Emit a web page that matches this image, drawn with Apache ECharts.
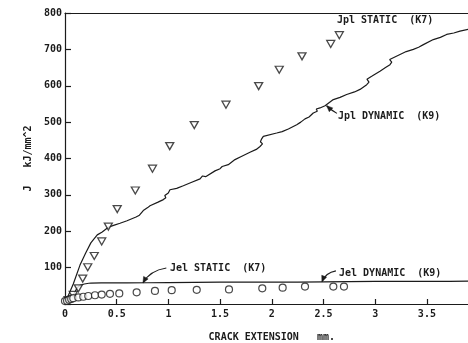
<!DOCTYPE html>
<html>
<head>
<meta charset="utf-8">
<script src="https://cdn.jsdelivr.net/npm/echarts@6/dist/echarts.min.js"></script>
<style>
  html, body { margin: 0; padding: 0; background: #fff; }
  #c { width: 468px; height: 343px; }
</style>
</head>
<body>
<div id="c"></div>
<script>
// Crack extension (mm) vs J (kJ/mm^2)

// Tick labels
const xTickLabels = ['0', '0.5', '1', '1.5', '2', '2.5', '3', '3.5'];
const yTickLabels = ['', '100', '200', '300', '400', '500', '600', '700', '800'];

// Jpl STATIC (K7) – open down-triangles
const jplStatic = [
  [0.03, 11], [0.08, 25], [0.129, 43], [0.171, 70], [0.22, 101], [0.283, 132],
  [0.355, 172], [0.419, 213], [0.505, 261], [0.68, 312], [0.846, 372],
  [1.013, 434], [1.25, 492], [1.557, 548], [1.873, 599], [2.072, 644],
  [2.292, 681], [2.57, 715], [2.653, 739]
];

// Jel STATIC (K7) – open circles
const jelStatic = [
  [0.0, 8], [0.02, 9], [0.04, 12], [0.06, 14], [0.08, 16], [0.129, 18],
  [0.177, 20], [0.225, 22], [0.29, 24], [0.355, 26], [0.435, 28], [0.525, 29],
  [0.693, 32], [0.87, 36], [1.032, 38], [1.274, 39], [1.586, 40], [1.908, 43],
  [2.105, 45], [2.321, 48], [2.595, 48], [2.698, 48]
];

// Jpl DYNAMIC (K9) – stepped resistance curve
const jplDynamic = [
  [0, 3], [0.03, 22], [0.08, 55], [0.145, 107], [0.2, 140], [0.25, 168],
  [0.312, 190], [0.36, 198], [0.419, 211], [0.47, 216], [0.532, 222], [0.6, 229],
  [0.687, 239], [0.72, 244], [0.757, 257], [0.8, 265], [0.822, 270], [0.9, 280],
  [0.951, 287], [0.975, 292], [0.965, 298], [0.999, 305], [1.015, 314],
  [1.08, 318], [1.144, 325], [1.22, 334], [1.306, 344], [1.33, 352], [1.36, 350],
  [1.451, 366], [1.5, 372], [1.52, 378], [1.579, 383], [1.644, 397], [1.7, 405],
  [1.789, 417], [1.85, 425], [1.886, 433], [1.91, 440], [1.89, 446], [1.902, 454],
  [1.918, 461], [2.047, 470], [2.1, 474], [2.16, 481], [2.241, 493], [2.28, 500],
  [2.321, 509], [2.36, 514], [2.401, 525], [2.44, 530], [2.43, 536], [2.466, 539],
  [2.515, 545], [2.595, 562], [2.66, 568], [2.724, 576], [2.8, 583], [2.853, 590],
  [2.918, 603], [2.94, 610], [2.92, 618], [2.966, 626], [3.046, 640], [3.1, 650],
  [3.143, 658], [3.16, 665], [3.14, 672], [3.159, 677], [3.24, 686], [3.3, 694],
  [3.369, 700], [3.42, 706], [3.466, 713], [3.562, 727], [3.63, 733], [3.691, 741],
  [3.76, 745], [3.82, 750], [3.9, 755], [4.0, 762]
];

// Jel DYNAMIC (K9)
const jelDynamic = [
  [0, 3], [0.04, 12], [0.08, 25], [0.12, 45], [0.15, 52], [0.23, 57],
  [0.35, 58], [0.6, 58], [1.0, 59], [1.5, 60], [2.0, 60], [2.5, 61],
  [3.0, 62], [3.5, 62], [4.0, 63]
];

// Annotation anchors in data units: label position, leader tail and tip
const notes = [
  { text: 'Jpl STATIC  (K7)',  at: [2.63, 780] },
  { text: 'Jpl DYNAMIC  (K9)', at: [2.64, 516], tail: [2.63, 524], tip: [2.53, 545], ctrl: [2.58, 532] },
  { text: 'Jel STATIC  (K7)',  at: [1.015, 99], tail: [0.98, 99], tip: [0.754, 58], ctrl: [0.82, 92] },
  { text: 'Jel DYNAMIC  (K9)', at: [2.65, 85], tail: [2.62, 91], tip: [2.485, 61], ctrl: [2.52, 86] }
];

const INK = '#1b1b1b';
const MONO = '"DejaVu Sans Mono", monospace';

const chart = echarts.init(document.getElementById('c'), null, { renderer: 'canvas' });

chart.setOption({
  backgroundColor: '#ffffff',
  animation: false,
  grid: { left: 65, width: 413.6, top: 13, bottom: 39, containLabel: false, outerBoundsMode: 'none' },
  xAxis: [{
    type: 'value', min: 0, max: 4, interval: 0.5,
    name: 'CRACK EXTENSION   mm.', nameLocation: 'middle', nameGap: 28,
    nameTextStyle: { fontFamily: MONO, fontSize: 10, color: INK, fontWeight: 'bold' },
    axisLine: { show: true, lineStyle: { color: INK, width: 1.2 } },
    axisTick: { show: true, inside: true, length: 5, lineStyle: { color: INK, width: 1.2 } },
    axisLabel: {
      fontFamily: MONO, fontSize: 10, color: INK, fontWeight: 'bold', margin: 5,
      formatter: v => { const i = Math.round(v / 0.5); return Math.abs(v - i * 0.5) < 1e-6 && i < xTickLabels.length ? xTickLabels[i] : ''; }
    },
    splitLine: { show: false }
  }, {
    type: 'value', position: 'top', min: 0, max: 4,
    axisLine: { show: true, lineStyle: { color: INK, width: 1.2 } },
    axisTick: { show: false }, axisLabel: { show: false }, splitLine: { show: false }
  }],
  yAxis: {
    type: 'value', min: 0, max: 800, interval: 100,
    name: 'J   kJ/mm^2', nameLocation: 'middle', nameGap: 32, nameMoveOverlap: false,
    nameTextStyle: { fontFamily: MONO, fontSize: 10, color: INK, fontWeight: 'bold' },
    axisLine: { show: true, lineStyle: { color: INK, width: 1.2 } },
    axisTick: { show: true, inside: true, length: 6, lineStyle: { color: INK, width: 1.2 } },
    axisLabel: {
      fontFamily: MONO, fontSize: 10, color: INK, fontWeight: 'bold', margin: 3,
      formatter: v => yTickLabels[Math.round(v / 100)] || ''
    },
    splitLine: { show: false }
  },
  series: [
    {
      name: 'Jpl DYNAMIC (K9)', type: 'line', data: jplDynamic, showSymbol: false,
      lineStyle: { color: INK, width: 1.2 }, z: 2
    },
    {
      name: 'Jel DYNAMIC (K9)', type: 'line', data: jelDynamic, showSymbol: false, smooth: 0.3,
      lineStyle: { color: INK, width: 1.2 }, z: 2
    },
    {
      name: 'Jpl STATIC (K7)', type: 'scatter', data: jplStatic,
      symbol: 'triangle', symbolRotate: 180, symbolSize: [8, 7],
      itemStyle: { color: '#fff', borderColor: INK, borderWidth: 1.3 }, z: 3
    },
    {
      name: 'Jel STATIC (K7)', type: 'scatter', data: jelStatic,
      symbol: 'circle', symbolSize: 7,
      itemStyle: { color: '#fff', borderColor: INK, borderWidth: 1.2 }, z: 3
    }
  ]
});

// Annotation labels with curved leaders and arrowheads
function px(p) { return chart.convertToPixel({ gridIndex: 0 }, p); }
const graphics = [];
notes.forEach(n => {
  const a = px(n.at);
  graphics.push({
    type: 'text', x: a[0], y: a[1],
    style: { text: n.text, fontFamily: MONO, fontSize: 10, fontWeight: 'bold', fill: INK,
             textAlign: 'left', textVerticalAlign: 'middle' }
  });
  if (n.tip) {
    const t = px(n.tail), h = px(n.tip), c = px(n.ctrl);
    graphics.push({
      type: 'bezierCurve',
      shape: { x1: t[0], y1: t[1], x2: h[0], y2: h[1], cpx1: c[0], cpy1: c[1] },
      style: { stroke: INK, lineWidth: 1.1, fill: null }
    });
    const ang = Math.atan2(h[1] - c[1], h[0] - c[0]);
    const L = 6, W = 2.6;
    const bx = h[0] - L * Math.cos(ang), by = h[1] - L * Math.sin(ang);
    const nx = -Math.sin(ang) * W, ny = Math.cos(ang) * W;
    graphics.push({
      type: 'polygon',
      shape: { points: [[h[0], h[1]], [bx + nx, by + ny], [bx - nx, by - ny]] },
      style: { fill: INK, stroke: INK, lineWidth: 0.5 }
    });
  }
});
chart.setOption({ graphic: graphics });
</script>
</body>
</html>
